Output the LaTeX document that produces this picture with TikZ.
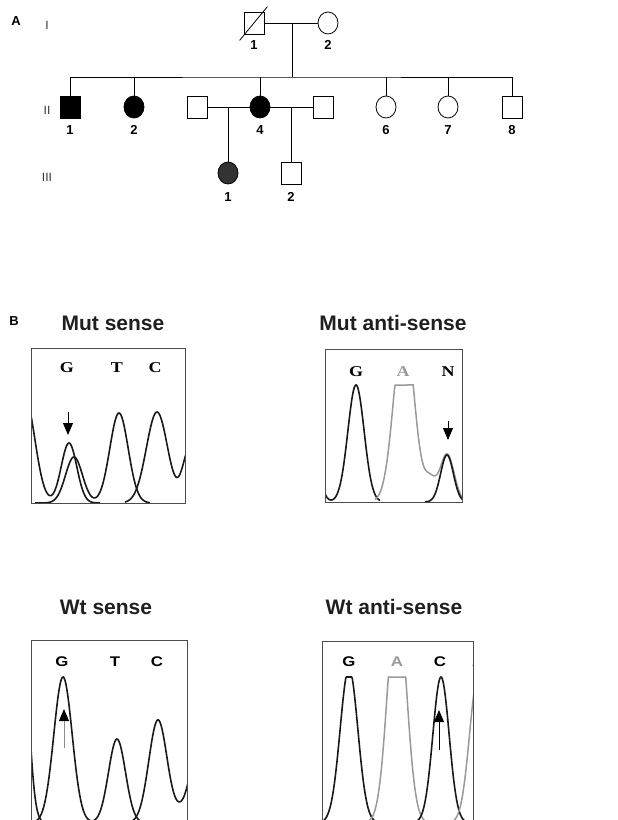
\documentclass[tikz,border=0pt]{standalone}
\usepackage{fontspec}
\setmainfont{Liberation Sans}
\newfontfamily\basefont{Liberation Serif}
\usetikzlibrary{shapes.geometric,arrows.meta}
\pgfmathdeclarefunction{gs}{3}{\pgfmathparse{exp(-((#1-#2)/#3)^2)}}
\newcommand{\mb}[1]{\scalebox{1.2}[1]{#1}}
\tikzset{
  male/.style={draw, rectangle, minimum width=20pt, minimum height=22pt, inner sep=0pt, line width=0.8pt},
  female/.style={draw, ellipse, minimum width=20pt, minimum height=22pt, inner sep=0pt, line width=0.8pt},
  aff/.style={fill=black},
  pnum/.style={font=\fontsize{13}{13}\selectfont\bfseries, inner sep=0pt},
  gen/.style={font=\fontsize{12}{12}\selectfont, text=black!80, inner sep=0pt},
  panel/.style={font=\fontsize{13}{13}\selectfont\bfseries, inner sep=0pt},
  ttl/.style={font=\fontsize{21}{21}\selectfont\bfseries, text=black!88, inner sep=0pt},
  mbase/.style={font=\fontsize{15}{15}\selectfont\basefont\bfseries, inner sep=0pt},
  wbase/.style={font=\fontsize{14}{14}\selectfont\bfseries, inner sep=0pt},
  pline/.style={line width=0.8pt},
  frame/.style={draw=black!70, line width=0.9pt},
  trace/.style={line width=1.6pt, black!90},
  gtrace/.style={line width=1.5pt, black!40},
  marker/.style={line width=0.9pt, -{Triangle[length=12pt,width=10pt,color=black]}}
}
\begin{document}
\begin{tikzpicture}[x=1pt,y=-1pt]
\useasboundingbox (0,0) rectangle (618,820);
% ---------------- Panel A: pedigree
\node[panel] (lA) at (16,21) {A};
\node[gen] (g1) at (47,25) {I};
\node[gen] (g2) at (47,110) {II};
\node[gen] (g3) at (47,177) {III};

\node[male] (I1) at (254,23) {};
\node[female] (I2) at (328,23) {};
\draw[pline] ([shift={(-4pt,-6pt)}]I1.south west) -- ([shift={(3pt,5pt)}]I1.north east);
\node[pnum] (nI1) at (254,45) {1};
\node[pnum] (nI2) at (328,45) {2};
\coordinate (m1) at (292,23);
\coordinate (s1) at (292,77);
\draw[pline] (I1.east) -- (I2.west);
\draw[pline] (m1) -- (s1);

\node[male,aff] (II1) at (70,107) {};
\node[female,aff] (II2) at (134,107) {};
\node[male] (S1) at (197,107) {};
\node[female,aff] (II4) at (260,107) {};
\node[male] (S2) at (323,107) {};
\node[female] (II6) at (386,107) {};
\node[female] (II7) at (448,107) {};
\node[male] (II8) at (512,107) {};
\draw[pline] (II1.north) |- (s1) -| (II8.north);
\foreach \p in {II2,II4,II6,II7} \draw[pline] (\p.north) -- (\p.north |- s1);
\draw[pline] (S1.east) -- (II4.west);
\draw[pline] (II4.east) -- (S2.west);
\node[pnum] (nII1) at (70,130) {1};
\node[pnum] (nII2) at (134,130) {2};
\node[pnum] (nII4) at (260,130) {4};
\node[pnum] (nII6) at (386,130) {6};
\node[pnum] (nII7) at (448,130) {7};
\node[pnum] (nII8) at (512,130) {8};

\node[female,fill=black!80] (III1) at (228,173) {};
\node[male] (III2) at (291,173) {};
\draw[pline] (III1.north) -- (III1.north |- S1.east);
\draw[pline] (III2.north) -- (III2.north |- S2.west);
\node[pnum] (nIII1) at (228,197) {1};
\node[pnum] (nIII2) at (291,197) {2};

% ---------------- Panel B
\node[panel] (lB) at (14,321) {B};
\node[ttl] (t1) at (113,323) {Mut sense};
\node[ttl] (t2) at (393,323) {Mut anti-sense};
\node[ttl] (t3) at (106,607) {Wt sense};
\node[ttl] (t4) at (394,607) {Wt anti-sense};

% Mut sense
\begin{scope}
\clip (31,348) rectangle (185,503);
\draw[trace] plot[domain=29:100,samples=90] (\x,{503-105*gs(\x,25,14)-60*gs(\x,69,11)});
\draw[trace] plot[domain=35:150,samples=120] (\x,{503-46*gs(\x,74,12)-90*gs(\x,119,13)});
\draw[trace] plot[domain=125:187,samples=80] (\x,{503-91*gs(\x,157,15)-55*gs(\x,190,10)});
\end{scope}
\draw[frame] (31,348) rectangle (185,503);
\node[mbase] (b11) at (67,368) {\mb{G}};
\node[mbase] (b12) at (117,368) {\mb{T}};
\node[mbase] (b13) at (155,368) {\mb{C}};
\coordinate (a1s) at (68,412);
\coordinate (a1e) at (68,435);
\draw[marker] (a1s) -- (a1e);

% Mut anti-sense
\begin{scope}
\clip (325,349) rectangle (462,502);
\draw[trace] plot[domain=323:380,samples=80] (\x,{502-80*gs(\x,310,10)-117*gs(\x,356,11.5)});
\draw[gtrace] plot[domain=375:464,samples=120] (\x,{502-min(180*gs(\x,404,14),117)-20*gs(\x,430,8)-48*gs(\x,447,10)});
\draw[trace] plot[domain=425:464,samples=60] (\x,{502-47*gs(\x,447,9)});
\end{scope}
\draw[frame] (325,349) rectangle (462,502);
\node[mbase] (b21) at (356,372) {\mb{G}};
\node[mbase,text=black!40] (b22) at (403,372) {\mb{A}};
\node[mbase] (b23) at (448,372) {\mb{N}};
\coordinate (a2s) at (448,421);
\coordinate (a2e) at (448,440);
\draw[marker] (a2s) -- (a2e);

% Wt sense
\begin{scope}
\clip (31,640) rectangle (187,830);
\draw[trace] plot[domain=29:50,samples=40] (\x,{823-250*gs(\x,20,10)});
\draw[trace] plot[domain=33:145,samples=120] (\x,{823-146*gs(\x,63,13)-84*gs(\x,117,12)});
\draw[trace] plot[domain=130:189,samples=80] (\x,{823-103*gs(\x,158,13)-15*gs(\x,185,12)-70*gs(\x,198,10)});
\end{scope}
\draw[frame] (31,830) -- (31,640) -- (187,640) -- (187,830);
\node[wbase] (b31) at (62,662) {\mb{G}};
\node[wbase] (b32) at (115,662) {\mb{T}};
\node[wbase] (b33) at (157,662) {\mb{C}};
\coordinate (a3s) at (64,748);
\coordinate (a3e) at (64,709);
\draw[marker,draw=black!45] (a3s) -- (a3e);

% Wt anti-sense
\begin{scope}
\clip (322,641) rectangle (473,830);
\draw[trace] plot[domain=320:378,samples=80] (\x,{823-min(155*gs(\x,349,12.5),146)});
\draw[gtrace] plot[domain=368:430,samples=80] (\x,{823-min(230*gs(\x,397,13),146)});
\draw[trace] plot[domain=414:470,samples=80] (\x,{823-146*gs(\x,441,11.5)});
\draw[gtrace] plot[domain=450:475,samples=40] (\x,{823-146*gs(\x,478,12)});
\node[wbase,text=black!40] (b44) at (478,662) {\mb{A}};
\end{scope}
\draw[frame] (322,830) -- (322,641) -- (473,641) -- (473,830);
\node[wbase] (b41) at (349,662) {\mb{G}};
\node[wbase,text=black!40] (b42) at (397,662) {\mb{A}};
\node[wbase] (b43) at (440,662) {\mb{C}};
\coordinate (a4s) at (439,750);
\coordinate (a4e) at (439,710);
\draw[marker] (a4s) -- (a4e);
\end{tikzpicture}
\end{document}
